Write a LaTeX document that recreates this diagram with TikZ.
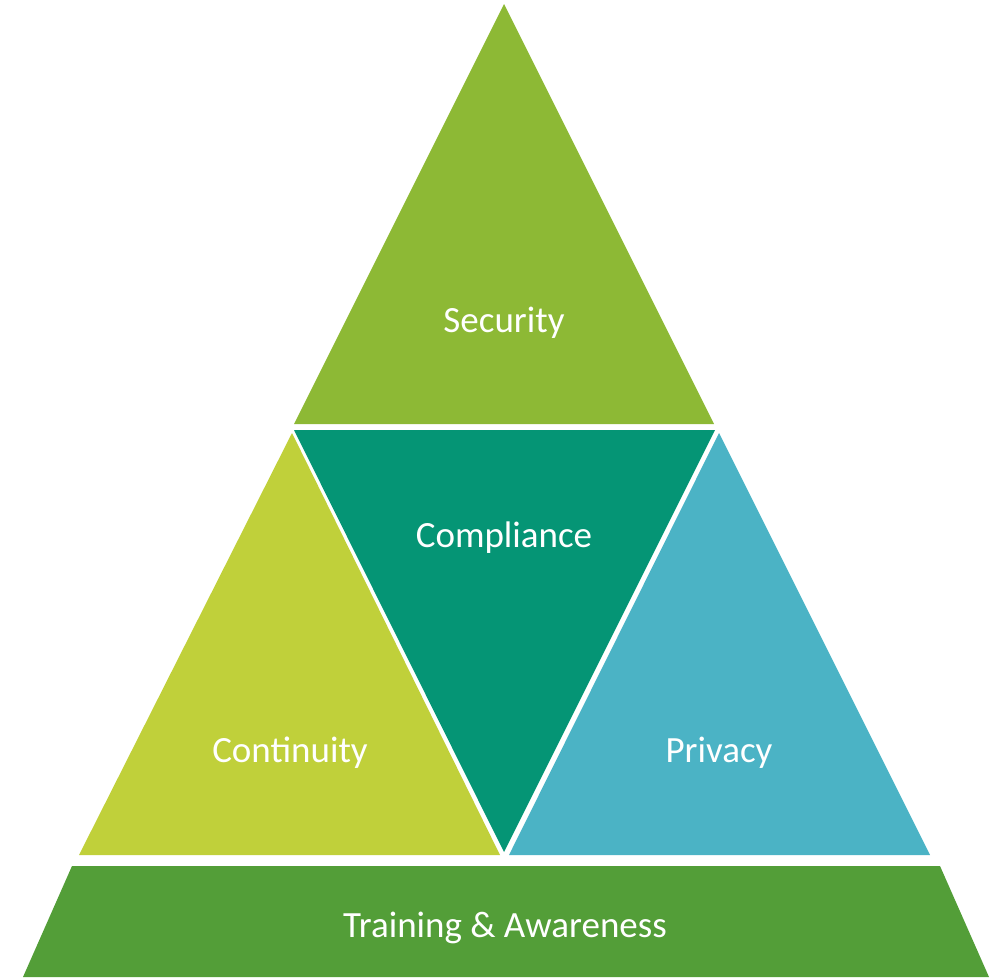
\documentclass[tikz,border=0pt]{standalone}
\usepackage{fontspec}
\setmainfont{Carlito}
\definecolor{secgreen}{HTML}{8DB935}
\definecolor{contgreen}{HTML}{C0D03A}
\definecolor{compteal}{HTML}{059575}
\definecolor{privblue}{HTML}{4BB3C5}
\definecolor{bargreen}{HTML}{539E38}
\begin{document}
\begin{tikzpicture}[x=1pt,y=-1pt,
  lbl/.style={text=white,font=\fontsize{37}{40}\selectfont,inner sep=0pt}]
\useasboundingbox (0,0) rectangle (1000,977);
\fill[secgreen] (504,4) -- (714,424) -- (294,424) -- cycle;
\fill[compteal] (294,430) -- (715,430) -- (504,852) -- cycle;
\fill[contgreen] (292,433) -- (500,855) -- (79,855) -- cycle;
\fill[privblue] (719,433) -- (930,855) -- (509,855) -- cycle;
\fill[bargreen] (72,866) -- (940,866) -- (989,977) -- (23,977) -- cycle;
\node[lbl] (security) at (504,323) {Security};
\node[lbl] (compliance) at (504,538) {Compliance};
\node[lbl] (continuity) at (290,753) {Continuity};
\node[lbl] (privacy) at (719,753) {Privacy};
\node[lbl] (training) at (505,928) {Training \& Awareness};
\end{tikzpicture}
\end{document}
